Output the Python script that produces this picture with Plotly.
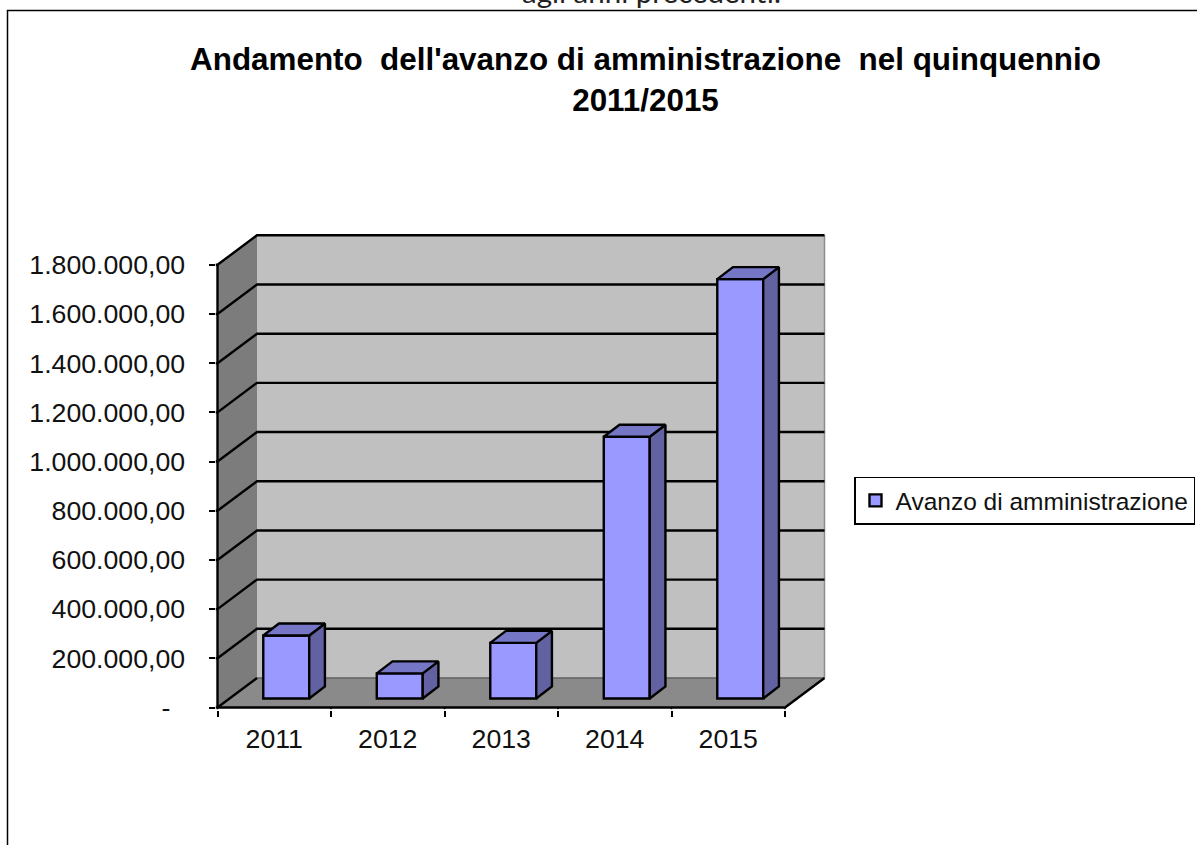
import plotly.graph_objects as go

# ---- data ----
categories = ["2011", "2012", "2013", "2014", "2015"]
series_name = "Avanzo di amministrazione"
values = [256000, 102000, 226000, 1064000, 1705000]
y_ticks = [0, 200000, 400000, 600000, 800000, 1000000, 1200000, 1400000, 1600000, 1800000]
y_labels = ["-\u00a0\u00a0", "200.000,00", "400.000,00", "600.000,00", "800.000,00", "1.000.000,00",
            "1.200.000,00", "1.400.000,00", "1.600.000,00", "1.800.000,00"]
title_text = "Andamento  dell'avanzo di amministrazione  nel quinquennio<br>2011/2015"
page_text = "agli anni precedenti."

# ---- geometry (page pixels) ----
W, H = 1197, 845
PX_CAT = 113.5
PX_VAL = 442.7 / 1800000
LEFT, FLOOR = 217.5, 707.5
DX = 39.5 / PX_CAT
DY = 29.5 / PX_VAL
OX = 12 / PX_CAT       # bar front plane, depth shift
OY = 9 / PX_VAL
BDX = 15.7 / PX_CAT    # bar depth
BDY = 12 / PX_VAL
BAR_W = 0.405
PAD = 2
PADX = PAD / PX_CAT
PADY = PAD / PX_VAL
N = len(categories)
TOP = y_ticks[-1]

C_BACK, C_SIDE, C_FLOOR = "#C0C0C0", "#7C7C7C", "#8A8A8A"
C_FRONT, C_TOP, C_RIGHT = "#9999FF", "#7676C6", "#6262A2"
FONT = "Liberation Sans, Arial, sans-serif"


def poly(points):
    return "M " + " L ".join(f"{x} {y}" for x, y in points) + " Z"


def pline(points):
    return "M " + " L ".join(f"{x} {y}" for x, y in points)


shapes = []


def add_fill(points, color):
    shapes.append(dict(type="path", xref="x", yref="y", layer="below", path=poly(points),
                       fillcolor=color, line=dict(width=0)))


def add_line(points, color="black", width=2.4):
    shapes.append(dict(type="path", xref="x", yref="y", layer="below", path=pline(points),
                       line=dict(color=color, width=width)))


add_fill([(DX, DY), (N + DX, DY), (N + DX, TOP + DY), (DX, TOP + DY)], C_BACK)
add_fill([(0, 0), (DX, DY), (DX, TOP + DY), (0, TOP)], C_SIDE)
add_fill([(0, 0), (N, 0), (N + DX, DY), (DX, DY)], C_FLOOR)
add_line([(N + DX, DY), (N + DX, TOP + DY)], "#8C8C8C", 1.5)
add_line([(DX, DY), (N + DX, DY)], "#606060", 1.5)
for v in y_ticks[1:]:
    add_line([(-PADX, v), (0, v), (DX, v + DY), (N + DX, v + DY)])
add_line([(0, 0), (0, TOP)])
add_line([(-PADX, 0), (N, 0), (N + DX, DY)])
add_line([(0, 0), (DX, DY)])
for i in range(N + 1):
    add_line([(i, 0), (i, -PADY)], width=1.5)

# page frame of the embedded picture
shapes.append(dict(type="rect", xref="paper", yref="paper", layer="below",
                   x0=7.5 / W, x1=1.02, y0=-0.02, y1=1 - 10.5 / H,
                   line=dict(color="black", width=1.5)))

fronts_x = [i + 0.5 + OX for i in range(N)]

top_x, top_y, side_x, side_y = [], [], [], []
for cx, v in zip(fronts_x, values):
    l, r = cx - BAR_W / 2, cx + BAR_W / 2
    t = v + OY
    top_x += [l, l + BDX, r + BDX, r, l, None]
    top_y += [t, t + BDY, t + BDY, t, t, None]
    side_x += [r, r + BDX, r + BDX, r, r, None]
    side_y += [OY, OY + BDY, t + BDY, t, OY, None]

fig = go.Figure()
fig.add_trace(go.Bar(x=fronts_x, y=values, base=[OY] * N, width=BAR_W, name=series_name,
                     marker=dict(color=C_FRONT, line=dict(color="black", width=2.4)),
                     showlegend=True))
fig.add_trace(go.Scatter(x=side_x, y=side_y, mode="lines", fill="toself", fillcolor=C_RIGHT,
                         line=dict(color="black", width=2.4), showlegend=False, hoverinfo="skip"))
fig.add_trace(go.Scatter(x=top_x, y=top_y, mode="lines", fill="toself", fillcolor=C_TOP,
                         line=dict(color="black", width=2.4), showlegend=False, hoverinfo="skip"))

fig.update_layout(
    width=W, height=H, margin=dict(l=0, r=0, t=0, b=0), autosize=False,
    paper_bgcolor="white", plot_bgcolor="rgba(0,0,0,0)", shapes=shapes,
    font=dict(family=FONT, size=25, color="black"),
    title=dict(text=title_text, x=645.5 / W, xanchor="center", y=1 - 70 / H, yanchor="top",
               automargin=False,
               font=dict(family=FONT, size=31.4, color="black", weight="bold")),
    legend=dict(x=854 / W, xanchor="left", y=1 - 476.5 / H, yanchor="top", bgcolor="white",
                bordercolor="black", borderwidth=1.5, font=dict(family=FONT, size=24.5, color="#111111")),
    annotations=[dict(text=page_text, xref="paper", yref="paper", x=651 / W, xanchor="center",
                      y=1 - 11 / H, yanchor="bottom", showarrow=False,
                      font=dict(family="Lato, sans-serif", size=29.5, color="#222222"))],
    xaxis=dict(domain=[(LEFT - PAD) / W, (LEFT + (N + DX) * PX_CAT + PAD) / W], automargin=False,
               range=[-PADX, N + DX + PADX], showgrid=False, zeroline=False, showline=False,
               tickmode="array", tickvals=[i + 0.5 for i in range(N)], ticktext=categories,
               ticks="", ticklabelstandoff=11, tickfont=dict(size=26.7, color="#111111"),
               minor=dict(tickmode="array", tickvals=list(range(N + 1)), ticks="outside",
                          ticklen=6, tickwidth=1.5, tickcolor="black", showgrid=False)),
    yaxis=dict(domain=[1 - (FLOOR + PAD) / H, 1 - (FLOOR - (TOP + DY) * PX_VAL - PAD) / H], automargin=False,
               range=[-PADY, TOP + DY + PADY], showgrid=False, zeroline=False, showline=False,
               tickmode="array", tickvals=y_ticks, ticktext=y_labels, ticks="outside",
               ticklen=6, tickwidth=2, tickcolor="black", ticklabelstandoff=18,
               tickfont=dict(size=26.7, color="#111111")),
)

fig.write_html("out.html", config=dict(displayModeBar=False),
               post_script="document.body.style.margin='0';document.documentElement.style.overflow='hidden';")
